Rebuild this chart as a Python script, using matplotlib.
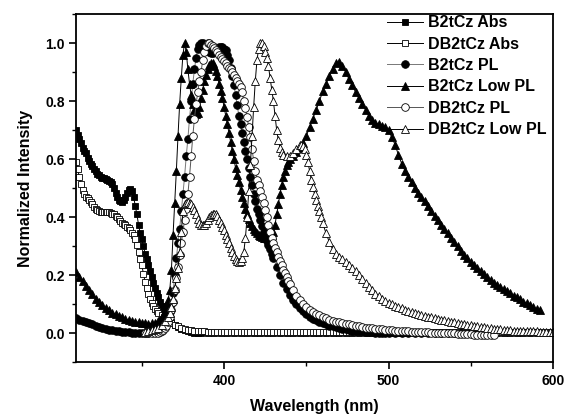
import matplotlib
matplotlib.use("Agg")
import matplotlib.pyplot as plt
from matplotlib.ticker import MultipleLocator

plt.rcParams['font.family'] = ['Liberation Sans', 'DejaVu Sans']
plt.rcParams['font.weight'] = 'bold'

# (wavelength nm, normalized intensity)
b2tcz_abs = [
    (310, .70), (311, .685), (312, .67), (313, .655), (314, .64), (315, .63), (316, .62),
    (317, .605), (318, .595), (319, .585), (320, .575), (321, .565), (322, .558), (323, .55),
    (324, .545), (325, .54), (326, .537), (327, .535), (328, .533), (329, .53), (330, .525),
    (331, .52), (332, .513), (333, .50), (334, .485), (335, .47), (336, .46), (337, .455),
    (338, .453), (339, .458), (340, .47), (341, .485), (342, .495), (343, .497), (344, .49),
    (345, .47), (346, .44), (347, .41), (348, .375), (349, .345), (350, .325), (351, .30),
    (352, .275), (353, .255), (354, .235), (355, .215), (356, .195), (357, .175), (358, .155),
    (359, .14), (360, .125), (361, .11), (362, .095), (363, .082), (364, .07), (365, .06),
    (366, .05), (367, .044), (368, .038), (370, .03), (372, .023), (374, .017), (376, .012),
    (378, .008), (380, .005), (382, .003), (384, .001), (386, 0), (390, 0), (394, 0), (398, 0),
    (402, 0), (406, 0), (410, 0), (414, 0), (418, 0), (422, 0), (426, 0), (430, 0), (434, 0),
    (438, 0), (442, 0), (446, 0), (450, 0), (454, 0), (458, 0), (462, 0), (466, 0), (470, 0),
    (474, 0), (478, 0), (482, 0), (486, 0), (490, 0), (494, 0), (498, 0), (502, 0), (506, 0),
    (510, 0), (514, 0), (518, 0), (522, 0), (526, 0), (530, 0), (534, 0), (538, 0), (542, 0),
    (546, 0), (550, 0), (554, 0), (558, 0), (562, 0), (566, 0), (570, 0), (574, 0), (578, 0),
    (582, 0), (586, 0), (590, 0), (594, 0), (598, 0),
]

db2tcz_abs = [
    (310, .59), (311, .565), (312, .54), (313, .515), (314, .495), (315, .48), (316, .47),
    (317, .465), (318, .46), (319, .452), (320, .445), (321, .437), (322, .43), (323, .425),
    (324, .42), (325, .418), (326, .418), (327, .418), (328, .418), (329, .418), (330, .417),
    (331, .416), (332, .413), (333, .41), (334, .405), (335, .40), (336, .393), (337, .386),
    (338, .38), (339, .376), (340, .373), (341, .368), (342, .362), (343, .355), (344, .347),
    (345, .338), (346, .325), (347, .305), (348, .28), (349, .258), (350, .235), (351, .205),
    (352, .178), (353, .155), (354, .135), (355, .12), (356, .106), (357, .094), (358, .084),
    (359, .077), (360, .07), (362, .062), (364, .053), (366, .044), (368, .036), (370, .03),
    (372, .025), (374, .02), (376, .016), (378, .013), (380, .011), (382, .009), (384, .008),
    (386, .007), (388, .007), (390, .006), (392, .006), (394, .006), (396, .006), (398, .006),
    (400, .006), (402, .006), (404, .006), (406, .006), (408, .006), (410, .006), (412, .006),
    (414, .006), (416, .006), (418, .006), (420, .006), (422, .006), (424, .006), (426, .006),
    (428, .006), (430, .006), (432, .006), (434, .006), (436, .006), (438, .006), (440, .006),
    (442, .006), (444, .006), (446, .006), (448, .006), (450, .006), (452, .006), (454, .006),
    (456, .006), (458, .006), (460, .006), (462, .006), (464, .006), (466, .006), (468, .006),
    (470, .006), (472, .006), (474, .006), (476, .006), (478, .006), (480, .006), (482, .006),
    (484, .006), (486, .006), (488, .006), (490, .006), (492, .006), (494, .005), (496, .005),
    (498, .005), (500, .005), (503, .005), (506, .005), (509, .005), (512, .005), (515, .005),
    (518, .005), (521, .005), (524, .005), (527, .005), (530, .005), (533, .005), (536, .005),
    (539, .005), (542, .005), (545, .005), (548, .005), (551, .005), (554, .005), (557, .005),
    (560, .005), (563, .005), (566, .005), (569, .005), (572, .005), (575, .005), (578, .005),
    (581, .005), (584, .005), (587, .005), (590, .005), (593, .005), (596, .005), (599, .005),
]

b2tcz_pl = [
    (310, .052), (312, .048), (314, .044), (316, .040), (318, .035), (320, .031), (322, .027),
    (324, .023), (326, .019), (328, .016), (330, .013), (332, .011), (334, .009), (336, .007),
    (338, .006), (340, .005), (342, .004), (344, .003), (346, .003), (348, .002), (350, .002),
    (352, .002), (354, .003), (356, .004), (358, .006), (360, .010), (361, .013), (362, .017),
    (363, .022), (364, .030), (365, .040), (366, .055), (367, .075), (368, .10), (369, .14),
    (370, .20), (371, .26), (372, .31), (373, .36), (374, .42), (375, .48), (376, .54),
    (377, .61), (378, .67), (379, .74), (380, .80), (381, .86), (382, .91), (383, .95),
    (384, .98), (385, .995), (386, 1.0), (387, 1.0), (388, .995), (389, .985), (390, .975),
    (391, .97), (392, .965), (393, .965), (394, .97), (395, .975), (396, .98), (397, .985),
    (398, .985), (399, .985), (400, .98), (401, .975), (402, .96), (403, .94), (404, .915),
    (405, .885), (406, .855), (407, .82), (408, .785), (409, .75), (410, .72), (411, .69),
    (412, .66), (413, .63), (414, .60), (415, .57), (416, .54), (417, .51), (418, .48),
    (419, .455), (420, .43), (421, .41), (422, .39), (423, .37), (424, .35), (425, .335),
    (426, .32), (427, .305), (428, .29), (429, .275), (430, .26), (432, .23), (434, .20),
    (436, .175), (438, .152), (440, .132), (442, .115), (444, .10), (446, .087), (448, .076),
    (450, .066), (452, .058), (454, .051), (456, .045), (458, .040), (460, .035), (462, .031),
    (464, .027), (466, .024), (468, .021), (470, .018), (472, .016), (474, .014), (476, .012),
    (478, .010), (480, .009), (482, .008), (484, .007), (486, .006), (488, .005), (490, .004),
    (492, .003), (494, .003), (496, .002), (498, .002), (500, .001), (504, .001), (508, 0),
    (512, 0), (516, 0), (520, 0), (524, 0), (528, 0), (532, 0), (536, 0), (540, 0), (544, 0),
    (548, 0), (552, 0), (556, 0), (560, 0),
]

b2tcz_low_pl = [
    (310, .21), (312, .195), (314, .18), (316, .165), (318, .15), (320, .135), (322, .12),
    (324, .108), (326, .097), (328, .088), (330, .08), (332, .072), (334, .066), (336, .06),
    (338, .055), (340, .05), (342, .046), (344, .043), (346, .04), (348, .038), (350, .036),
    (352, .035), (354, .034), (356, .035), (358, .037), (360, .042), (361, .047), (362, .055),
    (363, .065), (364, .078), (365, .095), (366, .115), (367, .15), (368, .22), (369, .34),
    (370, .45), (371, .56), (372, .68), (373, .79), (374, .88), (375, .96), (376, 1.0),
    (377, .97), (378, .91), (379, .86), (380, .82), (381, .79), (382, .77), (383, .755),
    (384, .76), (385, .78), (386, .81), (387, .84), (388, .87), (389, .89), (390, .91),
    (391, .925), (392, .93), (393, .93), (394, .92), (395, .905), (396, .885), (397, .86),
    (398, .835), (399, .81), (400, .78), (401, .75), (402, .72), (403, .69), (404, .66),
    (405, .63), (406, .60), (407, .57), (408, .545), (409, .52), (410, .495), (411, .47),
    (412, .45), (413, .43), (414, .41), (415, .395), (416, .38), (417, .37), (418, .36),
    (419, .352), (420, .345), (421, .34), (422, .335), (423, .332), (424, .33), (425, .33),
    (426, .33), (427, .33), (428, .332), (429, .338), (430, .35), (431, .375), (432, .41),
    (433, .445), (434, .48), (435, .51), (436, .54), (437, .56), (438, .58), (439, .59),
    (440, .60), (442, .61), (444, .625), (446, .64), (448, .655), (450, .68), (452, .71),
    (454, .74), (456, .77), (458, .80), (460, .835), (462, .86), (464, .885), (466, .91),
    (468, .93), (470, .935), (472, .92), (474, .90), (476, .875), (478, .855), (480, .83),
    (482, .81), (484, .79), (486, .77), (488, .75), (490, .735), (492, .725), (494, .72),
    (496, .715), (498, .71), (500, .70), (502, .675), (504, .65), (506, .615), (508, .585),
    (510, .56), (512, .54), (514, .52), (516, .50), (518, .485), (520, .47), (522, .455),
    (524, .44), (526, .42), (528, .405), (530, .39), (532, .375), (534, .36), (536, .345),
    (538, .33), (540, .315), (542, .30), (544, .285), (546, .27), (548, .26), (550, .245),
    (552, .235), (554, .225), (556, .215), (558, .205), (560, .195), (562, .185), (564, .175),
    (566, .167), (568, .16), (570, .152), (572, .145), (574, .138), (576, .13), (578, .124),
    (580, .118), (582, .11), (584, .104), (586, .097), (588, .09), (590, .085), (592, .08),
]

db2tcz_pl = [
    (352, 0), (354, 0), (356, 0), (358, .001), (360, .003), (361, .005), (362, .008),
    (363, .012), (364, .018), (365, .027), (366, .04), (367, .058), (368, .08), (369, .11),
    (370, .15), (371, .19), (372, .23), (373, .27), (374, .31), (375, .35), (376, .39),
    (377, .43), (378, .48), (379, .54), (380, .61), (381, .68), (382, .74), (383, .79),
    (384, .83), (385, .87), (386, .90), (387, .94), (388, .97), (389, .99), (390, 1.0),
    (391, 1.0), (392, .995), (393, .99), (394, .982), (395, .975), (396, .968), (397, .96),
    (398, .953), (399, .945), (400, .937), (401, .93), (402, .922), (403, .915), (404, .91),
    (405, .90), (406, .89), (407, .88), (408, .87), (409, .86), (410, .85), (411, .83),
    (412, .80), (413, .775), (414, .745), (415, .71), (416, .675), (417, .635), (418, .595),
    (419, .56), (420, .53), (421, .51), (422, .49), (423, .47), (424, .45), (425, .425),
    (426, .40), (427, .375), (428, .35), (429, .33), (430, .31), (431, .295), (432, .28),
    (433, .265), (434, .25), (435, .235), (436, .22), (437, .207), (438, .195), (439, .182),
    (440, .17), (442, .15), (444, .13), (446, .115), (448, .10), (450, .09), (452, .082),
    (454, .075), (456, .068), (458, .062), (460, .057), (462, .052), (464, .048), (466, .044),
    (468, .041), (470, .038), (472, .035), (474, .033), (476, .031), (478, .028), (480, .026),
    (482, .024), (484, .022), (486, .02), (488, .019), (490, .018), (492, .016), (494, .015),
    (496, .014), (498, .013), (500, .012), (502, .011), (504, .010), (506, .009), (508, .008),
    (510, .008), (512, .007), (514, .006), (516, .006), (518, .005), (520, .005), (522, .004),
    (524, .004), (526, .003), (528, .003), (530, .002), (532, .002), (534, .001), (536, .001),
    (538, 0), (540, 0), (542, -.001), (544, -.002), (546, -.002), (548, -.003), (550, -.003),
    (552, -.004), (554, -.004), (556, -.005), (558, -.005), (560, -.006), (562, -.006),
    (564, -.006),
]

db2tcz_low_pl = [
    (352, .005), (354, .01), (356, .012), (358, .015), (360, .02), (362, .03), (364, .042),
    (366, .056), (367, .07), (368, .09), (369, .12), (370, .155), (371, .19), (372, .225),
    (373, .28), (374, .35), (375, .42), (376, .445), (377, .45), (378, .452), (379, .45),
    (380, .445), (381, .437), (382, .425), (383, .41), (384, .395), (385, .382), (386, .375),
    (387, .372), (388, .374), (389, .38), (390, .39), (391, .40), (392, .408), (393, .412),
    (394, .413), (395, .41), (396, .403), (397, .392), (398, .38), (399, .368), (400, .355),
    (401, .34), (402, .325), (403, .31), (404, .295), (405, .28), (406, .268), (407, .258),
    (408, .25), (409, .247), (410, .248), (411, .26), (412, .28), (413, .33), (414, .40),
    (415, .49), (416, .58), (417, .68), (418, .78), (419, .87), (420, .94), (421, .98),
    (422, 1.0), (423, 1.0), (424, .99), (425, .97), (426, .95), (427, .92), (428, .88),
    (429, .84), (430, .80), (431, .75), (432, .70), (433, .665), (434, .64), (435, .625),
    (436, .615), (438, .61), (440, .612), (442, .62), (444, .635), (446, .648), (447, .65),
    (448, .645), (449, .635), (450, .615), (451, .59), (452, .56), (453, .53), (454, .505),
    (455, .48), (456, .46), (457, .44), (458, .42), (459, .40), (460, .38), (462, .345),
    (464, .315), (466, .29), (468, .275), (470, .265), (472, .255), (474, .245), (476, .235),
    (478, .225), (480, .215), (482, .20), (484, .188), (486, .175), (488, .16), (490, .148),
    (492, .137), (494, .128), (496, .12), (498, .112), (500, .105), (502, .10), (504, .095),
    (506, .091), (508, .087), (510, .082), (512, .078), (514, .074), (516, .07), (518, .066),
    (520, .063), (522, .06), (524, .058), (526, .055), (528, .053), (530, .05), (532, .048),
    (534, .045), (536, .043), (538, .04), (540, .038), (542, .036), (544, .034), (546, .032),
    (548, .03), (550, .028), (552, .026), (554, .024), (556, .022), (558, .021), (560, .019),
    (562, .018), (564, .016), (566, .015), (568, .014), (570, .013), (572, .012), (574, .011),
    (576, .01), (578, .01), (580, .009), (582, .009), (584, .008), (586, .008), (588, .007),
    (590, .007), (592, .006), (594, .006), (596, .005), (598, .005), (600, .005),
]

series = [
    ("B2tCz Abs", b2tcz_abs, "s", "black", "black", 5),
    ("DB2tCz Abs", db2tcz_abs, "s", "white", "black", 5),
    ("B2tCz PL", b2tcz_pl, "o", "black", "#777777", 5.5),
    ("B2tCz Low PL", b2tcz_low_pl, "^", "black", "black", 6),
    ("DB2tCz PL", db2tcz_pl, "o", "white", "#555555", 5.5),
    ("DB2tCz Low PL", db2tcz_low_pl, "^", "white", "black", 6),
]

fig = plt.figure(figsize=(5.64, 4.17), dpi=100)
ax = fig.add_axes([0.1348, 0.1307, 0.8457, 0.8357])

for label, data, marker, face, linecol, ms in series:
    wl, val = zip(*data)
    ax.plot(wl, val, color=linecol, lw=0.7, marker=marker, ms=ms,
            markerfacecolor=face, markeredgecolor="black", markeredgewidth=0.6,
            label=label)

ax.set_xlim(310, 600)
ax.set_ylim(-0.1, 1.1)
ax.xaxis.set_major_locator(MultipleLocator(100))
ax.xaxis.set_minor_locator(MultipleLocator(50))
ax.yaxis.set_major_locator(MultipleLocator(0.2))
ax.yaxis.set_minor_locator(MultipleLocator(0.1))
ax.yaxis.set_major_formatter(plt.FormatStrFormatter('%.1f'))
ax.tick_params(which='major', direction='out', length=5, width=1.2, labelsize=10, pad=3)
ax.tick_params(which='minor', direction='out', length=3, width=1.0)
for sp in ax.spines.values():
    sp.set_linewidth(1.3)

ax.set_xlabel("Wavelength (nm)", fontsize=11.5, fontweight='bold', labelpad=8)
ax.set_ylabel("Normalized Intensity", fontsize=11.5, fontweight='bold', labelpad=9)

ax.legend(loc='upper right', bbox_to_anchor=(1.0, 1.015), frameon=False, fontsize=11.5,
          numpoints=1, handlelength=2.3, handletextpad=0.3, labelspacing=0.4,
          borderaxespad=0.2, borderpad=0.2)

fig.savefig("out.png", dpi=100)
